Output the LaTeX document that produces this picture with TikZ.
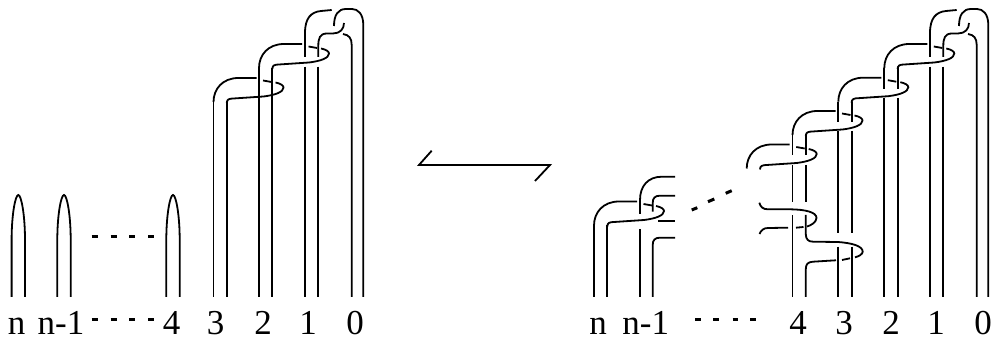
\documentclass[tikz,border=0pt]{standalone}
\usepackage{fontspec}
\setmainfont{Liberation Serif}
% O = outer strand x, T = top y of one clasp
\newcommand{\clasp}[2]{%
  \draw[strand] ({#1},{#2+24}) .. controls ({#1},{#2+11}) and ({#1+9},{#2}) .. ({#1+25},{#2}) -- ({#1+43},{#2});
  \draw[strand] ({#1+49.5},{#2+2.5}) -- ({#1+58},{#2+4});
  \draw[strand] ({#1+62},{#2+4.5}) .. controls ({#1+67},{#2+5.5}) and ({#1+70},{#2+7.5}) .. ({#1+70},{#2+9.5})
     .. controls ({#1+70},{#2+14}) and ({#1+62},{#2+17}) .. ({#1+50},{#2+18.5}) -- ({#1+20},{#2+20.5})
     .. controls ({#1+15.5},{#2+20.5}) and ({#1+13.3},{#2+21.5}) .. ({#1+13.3},{#2+25});
}
\newcommand{\seg}[3]{\draw[strand] ({#1},{#2}) -- ({#1},{#3});}
\newcommand{\tophead}[1]{%
  \draw[strand] ({#1+305},57) -- ({#1+305},33) .. controls ({#1+305},18) and ({#1+311},12) .. ({#1+321},11) -- ({#1+331.7},10);
  \draw[strand] ({#1+318.3},57) -- ({#1+318.3},46) .. controls ({#1+318.3},38) and ({#1+320},33.5) .. ({#1+327},33.5) -- ({#1+333},33.5) .. controls ({#1+340},33.5) and ({#1+344},29) .. ({#1+344},23);
  \draw[strand] ({#1+363.3},297) -- ({#1+363.3},25) .. controls ({#1+363.3},14) and ({#1+358},9) .. ({#1+352},9) -- ({#1+346},9) .. controls ({#1+338},9) and ({#1+334},15) .. ({#1+334},26);
  \draw[strand] ({#1+351.7},297) -- ({#1+351.7},45) .. controls ({#1+351.7},38) and ({#1+349},35) .. ({#1+343},34);
}
\newcommand{\arch}[1]{%
  \draw[strand] ({#1-6.7},297) -- ({#1-6.7},240) .. controls ({#1-6.7},215) and ({#1-3},195) .. ({#1},195) .. controls ({#1+3},195) and ({#1+6.7},215) .. ({#1+6.7},240) -- ({#1+6.7},297);
}
\tikzset{
  strand/.style={line width=1.8pt},
  dotdash/.style={line width=3pt},
  lab/.style={inner sep=0pt,anchor=base,font=\fontsize{35}{35}\selectfont}
}
\begin{document}
\begin{tikzpicture}[x=1pt,y=-1pt]
\useasboundingbox (0,0) rectangle (993,344);
% --- left braid ---
\arch{18.3}\arch{64}\arch{173}
\foreach \a/\b in {91.7/98,110.7/116.7,129/135,148/154}{
  \draw[dotdash] (\a,236.7) -- (\b,236.7);
  \draw[dotdash] (\a,320) -- (\b,320);
}
\clasp{213.5}{78}
\seg{213.5}{102}{297}\seg{226.8}{102}{297}
\clasp{259}{44}
\seg{259}{68}{297}\seg{272.3}{68}{297}
\seg{305}{66.7}{297}\seg{318.3}{66.7}{297}
\tophead{0}
\node[lab] (ln) at (16.7,335) {n};
\node[lab] (ln1) at (61,335) {n-1};
\node[lab] (l4) at (171.7,335) {4};
\node[lab] (l3) at (215.7,335) {3};
\node[lab] (l2) at (263,335) {2};
\node[lab] (l1) at (308,335) {1};
\node[lab] (l0) at (355,335) {0};
% --- harpoon ---
\draw[strand,line join=miter] (431.7,150.7) -- (419,165) -- (550,165) -- (535,181);
% --- right braid: top ---
\tophead{625}
\seg{930}{66.7}{297}\seg{943.3}{66.7}{297}
\clasp{884.3}{44}
\seg{884.3}{68}{89}\seg{897.6}{68}{89}
\seg{884.3}{98}{297}\seg{897.6}{98}{297}
\clasp{838.3}{77.7}
\seg{838.3}{101.7}{121.7}\seg{851.6}{101.7}{121.7}
\seg{838.3}{131}{233}\seg{851.6}{131}{233}
\seg{838.3}{246.7}{297}\seg{851.6}{246.7}{297}
\clasp{792.5}{111}
\seg{792.5}{135}{155}\seg{805.8}{135}{155}
\seg{792.5}{165}{201.7}\seg{805.8}{165}{201.7}
\clasp{746.7}{144.5}
% lower clasps
\draw[strand] (759.3,202.7) .. controls (760.5,207) and (763,209.3) .. (768,209.3) -- (790,209.3) .. controls (805,209.5) and (816.5,212) .. (816.5,218) .. controls (816.5,222) and (811,225.5) .. (807,226.5);
\draw[strand] (803.5,227) -- (796,227.7);
\draw[strand] (788,227.7) -- (768,228) .. controls (764,228) and (761,230) .. (759.5,234);
\seg{792.5}{215}{297}
\draw[strand] (805.8,215) -- (805.8,234) .. controls (805.8,239) and (808,241.7) .. (813,241.7) -- (838,242) .. controls (852,243) and (862.7,246) .. (862.7,251.7) .. controls (862.7,254) and (859,256.5) .. (855,257.3);
\draw[strand] (850,258.3) -- (842,260);
\draw[strand] (836,260.3) -- (813,261.7) .. controls (808,262) and (805.8,264) .. (805.8,269) -- (805.8,297);
% dotted diagonal
\draw[dotdash] (691.7,210) -- (697.3,207.7);
\draw[dotdash] (708,201.7) -- (714.3,199);
\draw[dotdash] (725.7,193.3) -- (731.7,190.7);
% --- right braid: bottom-left ---
\clasp{594}{201.5}
\seg{594}{225.5}{297}\seg{607.3}{225.5}{297}
\draw[strand] (640,214) -- (640,200) .. controls (640,186) and (648,176.7) .. (662,176.7) -- (675,176.7);
\seg{640}{229.3}{297}
\draw[strand] (652.7,211.7) -- (652.7,203) .. controls (652.7,198) and (655,195.7) .. (660,195.7) -- (675,195.7);
\draw[strand] (658,221) -- (675,221);
\draw[strand] (652.7,297) -- (652.7,245) .. controls (652.7,240) and (655,237.7) .. (660,237.7) -- (675,237.7);
\foreach \a/\b in {695/700.7,713/719,732.7/738,750/755.7}{
  \draw[dotdash] (\a,320) -- (\b,320);
}
\node[lab] (rn) at (598,335) {n};
\node[lab] (rn1) at (645.7,335) {n-1};
\node[lab] (r4) at (798,335) {4};
\node[lab] (r3) at (844,335) {3};
\node[lab] (r2) at (891,335) {2};
\node[lab] (r1) at (936,335) {1};
\node[lab] (r0) at (983,335) {0};
\end{tikzpicture}
\end{document}
